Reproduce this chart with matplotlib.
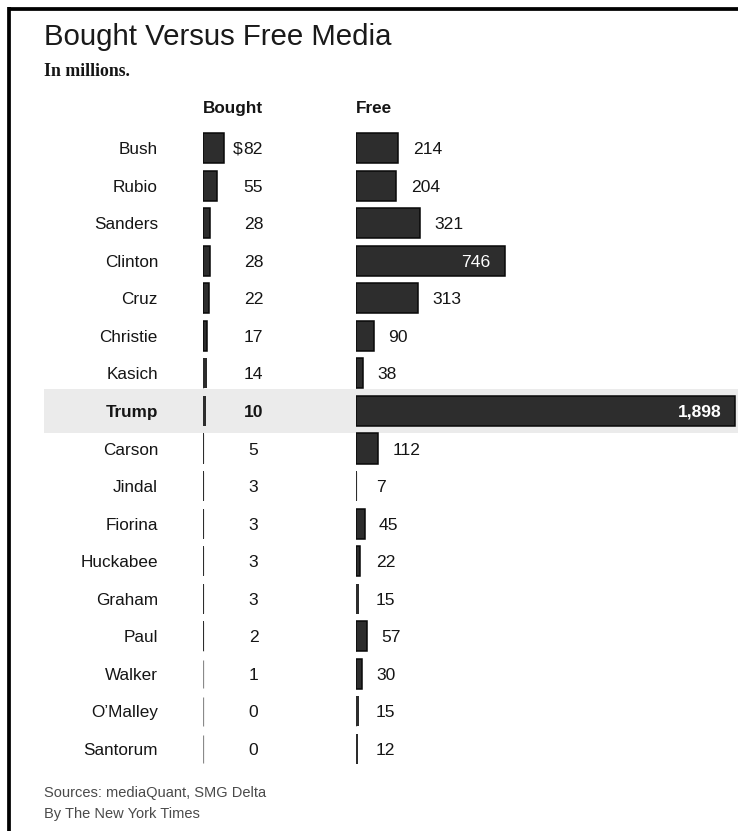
import matplotlib
matplotlib.use("Agg")
import matplotlib.pyplot as plt
from matplotlib.lines import Line2D

# Data (millions of dollars)
candidates = ["Bush", "Rubio", "Sanders", "Clinton", "Cruz", "Christie", "Kasich",
              "Trump", "Carson", "Jindal", "Fiorina", "Huckabee", "Graham", "Paul",
              "Walker", "O\u2019Malley", "Santorum"]
bought = [82, 55, 28, 28, 22, 17, 14, 10, 5, 3, 3, 3, 3, 2, 1, 0, 0]
free = [214, 204, 321, 746, 313, 90, 38, 1898, 112, 7, 45, 22, 15, 57, 30, 15, 12]
highlight = "Trump"

title = "Bought Versus Free Media"
subtitle = "In millions."
col_heads = ["Bought", "Free"]
source_note = "Sources: mediaQuant, SMG Delta"
credit = "By The New York Times"

W, H = 738, 831
SANS = ["Liberation Sans", "DejaVu Sans"]
SERIF = ["Liberation Serif", "DejaVu Serif"]
INK = "#151515"
BAR = "#2d2d2d"
EDGE = "#080808"


def fx(px):
    return px / W


def fy(py):
    return 1 - py / H


fig = plt.figure(figsize=(W / 100, H / 100), dpi=100)
fig.patch.set_facecolor("white")

n = len(candidates)
row_top, row_bot = 129.2, 767.8
ax_y, ax_h = fy(row_bot), (row_bot - row_top) / H

# background axes spanning the width: highlight band, names, bought values
bg = fig.add_axes([0, ax_y, 1, ax_h])
bg.set_xlim(0, 1)
bg.set_ylim(n - 0.5, -0.5)
bg.axis("off")
bg.set_zorder(0)

hi = candidates.index(highlight)
bg.axhspan(hi - 0.58, hi + 0.6, xmin=fx(44), xmax=1, color="#ebebeb", lw=0)

for i, name in enumerate(candidates):
    bold = name == highlight
    bg.text(fx(158), i, name, ha="right", va="center_baseline",
            family=SANS, fontsize=12.3, color=INK,
            fontweight="bold" if bold else "normal")
    bg.text(fx(253.5), i, str(bought[i]), ha="center", va="center_baseline",
            family=SANS, fontsize=12.6, color=INK,
            fontweight="bold" if bold else "normal")
    if i == 0:
        bg.text(fx(243), i, "$", ha="right", va="center_baseline",
                family=SANS, fontsize=12.6, color=INK)


def bar_panel(left_px, width_px, px_per_unit, values):
    ax = fig.add_axes([fx(left_px), ax_y, width_px / W, ax_h])
    ax.set_xlim(0, width_px / px_per_unit)
    ax.set_ylim(n - 0.5, -0.5)
    ax.axis("off")
    ax.patch.set_alpha(0)
    ax.set_zorder(1)
    ys = list(range(n))
    ax.vlines([0] * n, [y - 0.38 for y in ys], [y + 0.38 for y in ys],
              color="#8a8a8a", lw=0.9, zorder=1)
    widths = [v * px_per_unit for v in values]
    lws = [1.1 if w >= 4 else 0 for w in widths]
    ax.barh(ys, values, height=0.8, color=BAR, edgecolor=EDGE,
            linewidth=lws, zorder=2)
    return ax


ax_b = bar_panel(203, 45, 0.25, bought)
ax_f = bar_panel(355.5, 383, 0.2, free)

for i, v in enumerate(free):
    bold = candidates[i] == highlight
    if v > 500:
        ax_f.annotate(f"{v:,}", xy=(v, i), xytext=(-10, 0),
                      textcoords="offset points", ha="right",
                      va="center_baseline", family=SANS, fontsize=12.6,
                      color="white", fontweight="bold" if bold else "normal")
    else:
        ax_f.annotate(f"{v:,}", xy=(max(v, 30), i), xytext=(10.5, 0),
                      textcoords="offset points", ha="left",
                      va="center_baseline", family=SANS, fontsize=12.6,
                      color=INK)

# titles and notes
fig.text(fx(44), fy(45), title, family=SANS, fontsize=21.2, color="#1a1a1a",
         va="baseline", ha="left")
fig.text(fx(44), fy(76), subtitle, family=SERIF, fontsize=12.8,
         fontweight="bold", color=INK, va="baseline", ha="left")
fig.text(fx(203), fy(113), col_heads[0], family=SANS, fontsize=12.3,
         fontweight="bold", color=INK, va="baseline", ha="left")
fig.text(fx(355.5), fy(113), col_heads[1], family=SANS, fontsize=12.3,
         fontweight="bold", color=INK, va="baseline", ha="left")
fig.text(fx(44), fy(797), source_note, family=SANS, fontsize=10.5,
         color="#4a4a4a", va="baseline", ha="left")
fig.text(fx(44), fy(818), credit, family=SANS, fontsize=10.5,
         color="#4a4a4a", va="baseline", ha="left")

# frame on top and left
fig.add_artist(Line2D([fx(9), 1], [fy(9), fy(9)], color="black", lw=2.7,
                      solid_capstyle="butt"))
fig.add_artist(Line2D([fx(9), fx(9)], [fy(7.2), 0], color="black", lw=2.7,
                      solid_capstyle="butt"))

fig.savefig("out.png", dpi=100)
